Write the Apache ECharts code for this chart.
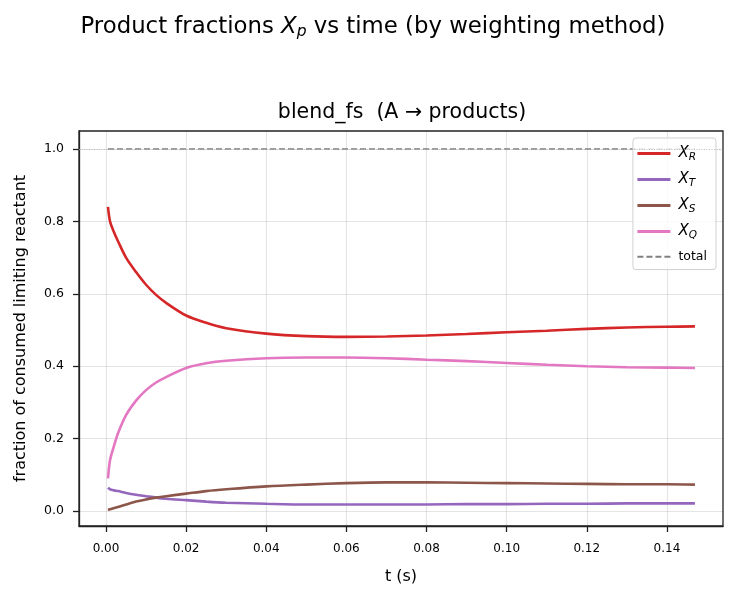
<!DOCTYPE html>
<html>
<head>
<meta charset="utf-8">
<script src="https://cdn.jsdelivr.net/npm/echarts@6/dist/echarts.min.js"></script>
<style>
    html, body { margin: 0; padding: 0; background: #fff; }
    #chart { width: 738px; height: 598px; }
</style>
</head>
<body>
<div id="chart"></div>
<script>
// time samples (s)
const tValues = [0.0005, 0.001, 0.002, 0.003, 0.005, 0.0075, 0.01, 0.0125, 0.015, 0.02, 0.025, 0.03,
    0.04, 0.05, 0.06, 0.07, 0.08, 0.09, 0.10, 0.11, 0.12, 0.13, 0.14, 0.147];
const xR = [0.84, 0.80, 0.77, 0.745, 0.70, 0.66, 0.625, 0.597, 0.575, 0.54, 0.52, 0.505,
    0.49, 0.483, 0.481, 0.482, 0.485, 0.489, 0.494, 0.498, 0.503, 0.507, 0.509, 0.51];
const xT = [0.064, 0.060, 0.057, 0.055, 0.050, 0.045, 0.041, 0.037, 0.034, 0.030, 0.026, 0.023,
    0.020, 0.018, 0.018, 0.018, 0.018, 0.019, 0.019, 0.020, 0.020, 0.021, 0.021, 0.021];
const xS = [0.003, 0.005, 0.008, 0.011, 0.018, 0.026, 0.032, 0.037, 0.041, 0.048, 0.055, 0.060,
    0.068, 0.073, 0.077, 0.079, 0.079, 0.078, 0.077, 0.076, 0.075, 0.074, 0.074, 0.073];
const xQ = [0.09, 0.14, 0.18, 0.215, 0.265, 0.305, 0.334, 0.355, 0.37, 0.395, 0.408, 0.415,
    0.422, 0.424, 0.424, 0.422, 0.418, 0.414, 0.409, 0.404, 0.40, 0.397, 0.396, 0.395];
const total = [1, 1, 1, 1, 1, 1, 1, 1, 1, 1, 1, 1, 1, 1, 1, 1, 1, 1, 1, 1, 1, 1, 1, 1];
const xTicks = [0, 0.02, 0.04, 0.06, 0.08, 0.10, 0.12, 0.14];
const yTicks = [0, 0.2, 0.4, 0.6, 0.8, 1.0];

const font = 'DejaVu Sans';
const pair = (ys) => tValues.map((t, i) => [t, ys[i]]);

const subNames = { X_R: 'R', X_T: 'T', X_S: 'S', X_Q: 'Q' };

function lineSeries(name, ys, color) {
    return {
        name: name,
        type: 'line',
        data: pair(ys),
        showSymbol: false,
        symbol: 'none',
        smooth: 0.3,
        lineStyle: { color: color, width: 2.6 },
        itemStyle: { color: color },
        z: 3,
    };
}

let option = {
    animation: false,
    backgroundColor: '#fff',
    title: [
        {
            text: 'Product fractions {i|X}{s|p} vs time (by weighting method)',
            left: 368,
            top: 10,
            textAlign: 'center',
            textStyle: {
                fontFamily: font,
                fontSize: 22.8,
                fontWeight: 'normal',
                color: '#000',
                rich: {
                    i: { fontFamily: font, fontSize: 22.8, fontStyle: 'italic', color: '#000' },
                    s: { fontFamily: font, fontSize: 15.5, fontStyle: 'italic', color: '#000', padding: [9, 0, 0, 0] },
                },
            },
        },
        {
            text: 'blend_fs  (A → products)',
            left: 397,
            top: 97,
            textAlign: 'center',
            textStyle: { fontFamily: font, fontSize: 20.5, fontWeight: 'normal', color: '#000' },
        },
    ],
    legend: {
        orient: 'vertical',
        right: 22,
        top: 138,
        padding: [8, 9, 6, 3],
        itemGap: 9.5,
        itemWidth: 33,
        itemHeight: 17,
        // hide the marker in the middle of the legend line
        itemStyle: { color: 'rgba(0,0,0,0)', borderColor: 'rgba(0,0,0,0)', borderWidth: 0 },
        lineStyle: { width: 3 },
        borderColor: '#d0d0d0',
        borderWidth: 1,
        borderRadius: 3,
        backgroundColor: 'rgba(255,255,255,0.8)',
        data: [
            'X_R', 'X_T', 'X_S', 'X_Q',
            { name: 'total', lineStyle: { width: 2 } },
        ],
        formatter: function (name) {
            if (subNames[name]) {
                return '{i|X}{s|' + subNames[name] + '}';
            }
            return name;
        },
        textStyle: {
            fontFamily: font,
            fontSize: 12.5,
            color: '#000',
            padding: [0, 0, 0, 3],
            rich: {
                i: { fontFamily: font, fontSize: 15, fontStyle: 'italic', color: '#000' },
                s: { fontFamily: font, fontSize: 10.5, fontStyle: 'italic', color: '#000', padding: [7, 0, 0, 0] },
            },
        },
    },
    grid: {
        left: 79,
        right: 15,
        top: 131,
        bottom: 72,
        containLabel: false,
        show: true,
        borderColor: '#222',
        borderWidth: 1.3,
    },
    xAxis: {
        type: 'value',
        min: -0.00674,
        max: 0.154,
        name: 't (s)',
        nameLocation: 'middle',
        nameGap: 43,
        nameTextStyle: { fontFamily: font, fontSize: 16, color: '#000' },
        axisLine: { show: true, onZero: false, lineStyle: { color: '#222', width: 1.3 } },
        axisTick: { show: true, inside: false, length: 6, customValues: xTicks, lineStyle: { color: '#222', width: 1.3 } },
        axisLabel: {
            fontFamily: font,
            fontSize: 12,
            color: '#000',
            margin: 17,
            customValues: xTicks,
            formatter: (v) => v.toFixed(2),
        },
        splitLine: { show: true, lineStyle: { color: 'rgba(0,0,0,0.1)', width: 1.2 } },
    },
    yAxis: {
        type: 'value',
        min: -0.0414,
        max: 1.0497,
        name: 'fraction of consumed limiting reactant',
        nameLocation: 'middle',
        nameGap: 50,
        nameTextStyle: { fontFamily: font, fontSize: 16, color: '#000' },
        axisLine: { show: true, onZero: false, lineStyle: { color: '#222', width: 1.3 } },
        axisTick: { show: true, inside: false, length: 6, customValues: yTicks, lineStyle: { color: '#222', width: 1.3 } },
        axisLabel: {
            fontFamily: font,
            fontSize: 12.5,
            color: '#000',
            margin: 15,
            customValues: yTicks,
            formatter: (v) => v.toFixed(1),
        },
        splitLine: { show: true, lineStyle: { color: 'rgba(0,0,0,0.1)', width: 1.2 } },
    },
    series: [
        lineSeries('X_R', xR, '#d62728'),
        lineSeries('X_T', xT, '#9467bd'),
        lineSeries('X_S', xS, '#8c564b'),
        lineSeries('X_Q', xQ, '#e377c2'),
        {
            name: 'total',
            type: 'line',
            data: pair(total),
            showSymbol: false,
            symbol: 'none',
            lineStyle: { color: '#808080', width: 1.5, type: [6, 3] },
            itemStyle: { color: '#808080' },
            z: 2,
            markLine: {
                silent: true,
                symbol: 'none',
                label: { show: false },
                lineStyle: { color: '#b0b0b0', width: 0.8, type: [1, 1.5] },
                data: [{ yAxis: 1.0 }],
            },
        },
    ],
};

let chart = echarts.init(document.getElementById('chart'));
chart.setOption(option);
window.addEventListener('resize', () => {
    chart.resize();
});
</script>
</body>
</html>
